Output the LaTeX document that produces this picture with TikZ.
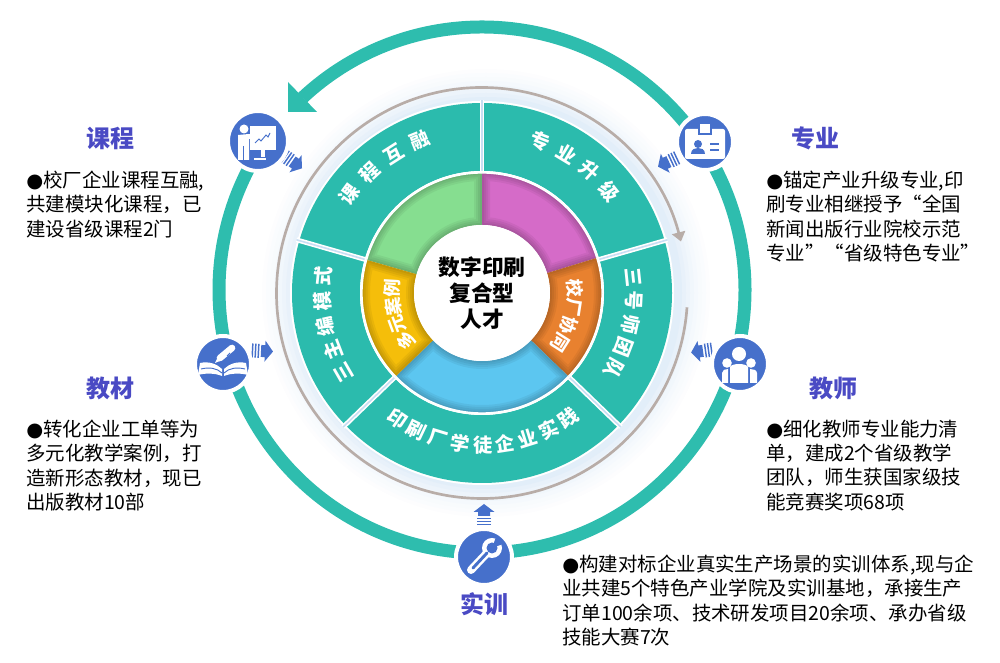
\documentclass[tikz,border=0pt]{standalone}
\usepackage{fontspec}
\setmainfont{Noto Sans CJK SC}
\newfontfamily\dotfont{DejaVu Sans}
\usetikzlibrary{arrows.meta}
\definecolor{bandteal}{RGB}{46, 189, 174}
\definecolor{sectorteal}{RGB}{43, 187, 173}
\definecolor{iconblue}{RGB}{70, 112, 203}
\definecolor{titleblue}{RGB}{74, 74, 196}
\definecolor{ringgrey}{RGB}{184, 173, 168}
\definecolor{glowblue}{RGB}{176, 208, 238}
\definecolor{petalgreen}{RGB}{134, 222, 144}
\definecolor{petalpink}{RGB}{213, 107, 200}
\definecolor{petalorange}{RGB}{232, 129, 47}
\definecolor{petalblue}{RGB}{92, 198, 240}
\definecolor{petalyellow}{RGB}{245, 190, 10}
\tikzset{
  iconball/.style={circle, fill=iconblue, draw=white, line width=3pt, minimum size=#1, inner sep=0pt},
  iconball/.default=42pt,
  titletext/.style={font=\fontsize{18}{22}\selectfont\bfseries, text=titleblue, inner sep=0pt},
  bodytext/.style={font=\fontsize{14.6}{18.1}\selectfont, align=left, anchor=north west, inner sep=0pt},
  arcchar/.style={font=\fontsize{#1}{#1}\selectfont\bfseries, text=white, inner sep=0pt},
  hintbar/.style={iconblue, line width=1.1pt},
  hubtext/.style={circle, fill=white, minimum size=102pt, inner sep=0pt, align=center, text=black, font=\fontsize{16.3}{19.5}\selectfont\bfseries},
}
\newcommand{\bul}{{\dotfont ●}}
% one ring sector as a path
\newcommand{\sectorpath}[4]{(#1:#4) arc[start angle=#1, end angle=#2, radius=#4] -- (#2:#3) arc[start angle=#2, end angle=#1, radius=#3] -- cycle}
% characters set one by one along an arc
\newcommand{\arcword}[7][14.5]{%
  \foreach \ch [count=\i from 0] in {#7} {
    \pgfmathsetmacro{\ang}{#4+\i*#5}
    \pgfmathsetmacro{\rot}{\ang+#6}
    \node[arcchar=#1, rotate=\rot] (#2\i) at (\ang:#3) {\ch};
  }}
% inner ring sector with a dark rim
\newcommand{\petal}[3]{%
  \fill[#3] \sectorpath{#1}{#2}{68}{120};
  \begin{scope}
    \clip \sectorpath{#1}{#2}{68}{120};
    \foreach \w in {3,6,9,12} \draw[black, opacity=0.05, line width=\w pt] \sectorpath{#1}{#2}{68}{120};
  \end{scope}
  \draw[white, line width=1pt] (#1:120) arc[start angle=#1, end angle=#2, radius=120];
}
% small arrow with three bars
\tikzset{
  hintarrow/.pic={
    \fill[iconblue] (11,0) -- (3,10.5) -- (3,6) -- (-1,6) -- (-1,-6) -- (3,-6) -- (3,-10.5) -- cycle;
    \draw[hintbar] (-3.5,-7) -- (-3.5,7);
    \draw[hintbar] (-6.5,-7) -- (-6.5,7);
    \draw[hintbar] (-9.5,-7) -- (-9.5,7);
  },
}
\begin{document}
\begin{tikzpicture}[x=0.75pt, y=0.75pt]
\useasboundingbox (0,0) rectangle (1000,663);
\coordinate (hub) at (482,370);
\coordinate (loop) at (482,373);

% Glow behind the disc
\foreach \r/\v in {224/3,220/6,216/9,212/13,208/18,204/23,200/29,196/36}
  \fill[glowblue!\v!white] ([xshift=3pt]hub) circle[radius=\r];

% Outer band and its arrow head
\draw[bandteal, line width=9.75pt] ([shift={(133:263)}]loop) arc[start angle=133, end angle=-214, radius=263];
\fill[bandteal] (288,551) -- (288,581) -- (317,551) -- cycle;

% Grey ring
\draw[ringgrey, line width=2pt, -{Triangle[length=7pt, width=10pt]}] ([shift={(-4:205.5)}]hub) arc[start angle=-4, end angle=-345.5, radius=205.5];

\begin{scope}[shift={(hub)}]
  % Teal sectors
  \fill[white] (0,0) circle[radius=192];
  \fill[sectorteal] \sectorpath{-196}{-136}{122}{190};
  \fill[sectorteal] \sectorpath{-136}{-44}{122}{190};
  \fill[sectorteal] \sectorpath{-44}{16}{122}{190};
  \fill[sectorteal] \sectorpath{16}{90}{122}{190};
  \fill[sectorteal] \sectorpath{90}{164}{122}{190};
  \foreach \a in {90,16,-44,-136,164} {
    \draw[white, line width=3.6pt] (\a:120) -- (\a:193);
    \draw[glowblue!70!white, line width=1.2pt] (\a:121) -- (\a:193);
  }
  % Inner ring
  \fill[white] (0,0) circle[radius=122];
  \petal{90}{164}{petalgreen}
  \petal{17}{90}{petalpink}
  \petal{-44}{17}{petalorange}
  \petal{-136}{-44}{petalblue}
  \petal{164}{224}{petalyellow}
  \node[hubtext] (core) at (0,0) {数字印刷\\复合型\\人才};

  % Words on the rings
  \arcword{kc}{165}{143.5}{-10.5}{-90}{课,程,互,融}
  \arcword{zy}{163}{69}{-10.2}{-90}{专,业,升,级}
  \arcword{sh}{152}{6}{-9}{-90}{三,号,师,团,队}
  \arcword{yh}{152}{-124}{8.56}{90}{印,刷,厂,学,徒,企,业,实,践}
  \arcword{sz}{160}{210}{-9}{-90}{三,主,编,模,式}
  \arcword[13.5]{dy}{90}{212}{-11.8}{-90}{多,元,案,例}
  \arcword[13.5]{xc}{93}{3}{-11.8}{-90}{校,厂,协,同}
\end{scope}

% Hint arrows
\pic[rotate=-35] at (293,501) {hintarrow};
\pic[rotate=205] at (668,501) {hintarrow};
\pic[rotate=188] at (702,312) {hintarrow};
\pic[rotate=-3] at (262,312) {hintarrow};
\pic[rotate=90] at (484,148) {hintarrow};

% Icon balls
\node[iconball=45pt] (course) at (258,522) {};
\node[iconball] (major) at (705,521) {};
\node[iconball] (teacher) at (740,299) {};
\node[iconball] (book) at (223,299) {};
\node[iconball] (train) at (484,106) {};

% Course icon
\begin{scope}[shift={(course)}]
  \fill[white] (-8,15) rectangle (18,-9);
  \fill[white] (3,-9) rectangle (7,-16);
  \fill[white] (-4,-17) rectangle (8,-19);
  \fill[white] (-14,12) circle[radius=4.5];
  \fill[white] (-20,6) -- (-9,7) -- (0,5) -- (0,3) -- (-9,2) -- (-9,-19) -- (-20,-19) -- cycle;
  \draw[iconblue, line width=0.6pt] (-15,-5) -- (-15,-19);
  \draw[iconblue, line width=0.7pt] (-3,-2) -- (1,2) -- (3,0) -- (8,6) -- (10,4) -- (12,8);
\end{scope}

% Major icon
\begin{scope}[shift={(major)}]
  \fill[white, rounded corners=1.5pt] (-20,13) rectangle (20,-17);
  \filldraw[fill=white, draw=iconblue, line width=0.8pt] (-6,19) rectangle (6,8);
  \fill[iconblue] (-7,-2) circle[radius=4];
  \fill[iconblue] (-14,-12) .. controls (-14,-7) and (-10,-6) .. (-7,-6) .. controls (-4,-6) and (0,-7) .. (0,-12) -- cycle;
  \draw[iconblue, line width=1.2pt] (5,-2) -- (14,-2);
  \draw[iconblue, line width=1.2pt] (5,-8) -- (14,-8);
\end{scope}

% Teacher icon
\begin{scope}[shift={(teacher)}]
  \fill[white] (-1,10) circle[radius=7];
  \fill[white] (-13,1) circle[radius=4.8];
  \fill[white] (11,1) circle[radius=4.8];
  \fill[white] (-10,-19) -- (-10,-3) .. controls (-8,1) and (6,1) .. (8,-3) -- (8,-19) -- cycle;
  \fill[white] (-18,-19) -- (-18,-9) .. controls (-18,-6) and (-15,-5) .. (-12,-5) -- (-12,-19) -- cycle;
  \fill[white] (10,-19) -- (10,-5) .. controls (13,-5) and (17,-6) .. (17,-9) -- (17,-19) -- cycle;
\end{scope}

% Book icon
\begin{scope}[shift={(book)}]
  \draw[white, line width=5pt, line cap=round] (-3,6) -- (9,16);
  \draw[iconblue, line width=0.7pt] (4,8) -- (7,11);
  \fill[white] (-8,1) -- (-6,5) -- (-3,3) -- cycle;
  \fill[white] (-23,1) .. controls (-14,3) and (-6,0) .. (-1,-5) -- (-1,-12) .. controls (-8,-9) and (-18,-9) .. (-25,-11) -- cycle;
  \fill[white] (23,1) .. controls (14,3) and (6,0) .. (1,-5) -- (1,-12) .. controls (8,-9) and (18,-9) .. (25,-11) -- cycle;
  \draw[iconblue, line width=0.7pt] (-22,-5) .. controls (-14,-3) and (-6,-4) .. (-1,-9);
  \draw[iconblue, line width=0.7pt] (22,-5) .. controls (14,-3) and (6,-4) .. (1,-9);
\end{scope}

% Wrench icon
\begin{scope}[shift={(train)}]
  \fill[white] (8,9) circle[radius=10];
  \draw[white, line width=6pt, line cap=round] (-13,-13) -- (3,4);
  \fill[iconblue] (8,9) circle[radius=5.5];
  \fill[iconblue] (8,9) -- (19.3,13.1) -- (12.1,20.3) -- cycle;
  \draw[iconblue, line width=2.2pt, line cap=round] (-11,-11) -- (3,4);
  \fill[white] (-13,-13) circle[radius=1.6];
\end{scope}

% Titles
\node[titletext] (tcourse) at (110,525) {课程};
\node[titletext] (tmajor) at (815,525) {专业};
\node[titletext] (tbook) at (110,275) {教材};
\node[titletext] (tteacher) at (833,275) {教师};
\node[titletext] (ttrain) at (484,59) {实训};

% Body texts
\node[bodytext] (bcourse) at (26,492) {\bul 校厂企业课程互融,\\共建模块化课程，已\\建设省级课程2门};
\node[bodytext] (bmajor) at (766,492) {\bul 锚定产业升级专业,印\\刷专业相继授予“全国\\新闻出版行业院校示范\\专业”“省级特色专业”};
\node[bodytext] (bbook) at (26,243) {\bul 转化企业工单等为\\多元化教学案例，打\\造新形态教材，现已\\出版教材10部};
\node[bodytext] (bteacher) at (766,243) {\bul 细化教师专业能力清\\单，建成2个省级教学\\团队，师生获国家级技\\能竞赛奖项68项};
\node[bodytext] (btrain) at (562,108) {\bul 构建对标企业真实生产场景的实训体系,现与企\\业共建5个特色产业学院及实训基地，承接生产\\订单100余项、技术研发项目20余项、承办省级\\技能大赛7次};
\end{tikzpicture}
\end{document}
